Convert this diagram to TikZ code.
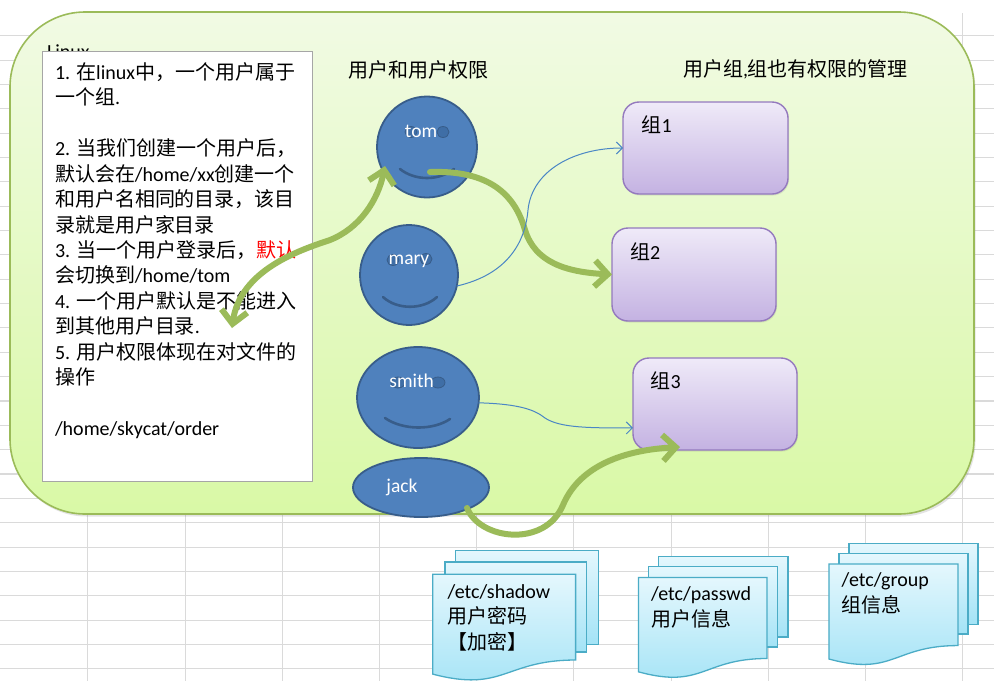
\documentclass[tikz,border=0pt]{standalone}
\usepackage{fontspec}
\setmainfont{Noto Sans CJK SC}
\newfontfamily\latf{Carlito}
\newcommand\lw[1]{{\latf #1}}
\usetikzlibrary{shapes.geometric,arrows.meta,calc,shadows}
\definecolor{gridc}{HTML}{DADADA}
\definecolor{grnb}{HTML}{9BBB59}
\definecolor{grtop}{HTML}{F1FAE4}
\definecolor{grbot}{HTML}{D9F9A6}
\definecolor{ublue}{HTML}{4F81BD}
\definecolor{ubord}{HTML}{385D8A}
\definecolor{eyec}{HTML}{3F6EA6}
\definecolor{ptop}{HTML}{EFEAF8}
\definecolor{pbot}{HTML}{C4B2E2}
\definecolor{pbord}{HTML}{9479BE}
\definecolor{dtop}{HTML}{E4F7FD}
\definecolor{dbot}{HTML}{A3E3F6}
\definecolor{dbord}{HTML}{4BACC6}
\definecolor{thinb}{HTML}{4A86C5}
\definecolor{arrg}{HTML}{9BBB59}
\newcommand\docfront[4]{% x, y, w, h
  \path[docst] (#1,#2) -- (#1+#3,#2) -- (#1+#3,#2+0.802*#4)
    .. controls (#1+0.5*#3,#2+0.802*#4) and (#1+0.5*#3,#2+1.108*#4) .. (#1,#2+0.934*#4) -- cycle;}
\tikzset{
  every node/.style={inner sep=0pt, outer sep=0pt},
  gridline/.style={draw=gridc, line width=1.1pt},
  container/.style={rectangle, rounded corners=75pt, draw=grnb, line width=1.6pt,
    top color=grtop, bottom color=grbot,
    drop shadow={shadow xshift=1.5pt, shadow yshift=-2.5pt, opacity=.22}},
  tbox/.style={rectangle, draw=black!35, line width=0.8pt, fill=white},
  txt/.style={anchor=base west, font=\fontsize{20}{24}\selectfont},
  ltxt/.style={anchor=base west, font=\latf\fontsize{20}{24}\selectfont},
  user/.style={ellipse, draw=ubord, line width=1.8pt, fill=ublue},
  eye/.style={fill=eyec, draw=ubord, line width=0.8pt},
  smile/.style={draw=ubord, line width=2.6pt, line cap=round},
  ulbl/.style={anchor=base, text=white, font=\latf\fontsize{19.5}{20}\selectfont},
  grp/.style={rectangle, rounded corners=16pt, draw=pbord, line width=1.4pt,
    top color=ptop, bottom color=pbot,
    drop shadow={shadow xshift=1pt, shadow yshift=-1.5pt, opacity=.18}},
  docst/.style={draw=dbord, line width=1.3pt, top color=dtop, bottom color=dbot},
  thinarr/.style={draw=thinb, line width=1pt, -{Straight Barb[length=6pt,width=12pt]}},
  garrow/.style={draw=arrg, line width=6pt, line cap=round,
    -{Straight Barb[length=13pt,width=26pt]}},
}
\begin{document}
\begin{tikzpicture}[x=1pt,y=-1pt]
\useasboundingbox[fill=white] (0,0) rectangle (994,681);
% spreadsheet grid
\foreach \k in {0,...,26} \draw[gridline] (0,35.7+24.35*\k) -- (994,35.7+24.35*\k);
\foreach \k in {0,...,9} \draw[gridline] (87.9+97.2*\k,13) -- (87.9+97.2*\k,681);
% container
\node[container, minimum width=964pt, minimum height=502pt] (linux) at (492,263) {};
\node[ltxt] (lx) at (47,58) {Linux};
% text box
\node[tbox, minimum width=270pt, minimum height=430pt] (tb) at (177,266) {};
\node[txt] (t1) at (55,79.3) {\lw{1. }在\lw{linux}中，一个用户属于};
\node[txt] (t2) at (55,104.75) {一个组\lw{.}};
\node[txt] (t4) at (55,155.65) {\lw{2. }当我们创建一个用户后，};
\node[txt] (t5) at (55,181.1) {默认会在\lw{/home/xx}创建一个};
\node[txt] (t6) at (55,206.55) {和用户名相同的目录，该目};
\node[txt] (t7) at (55,232) {录就是用户家目录};
\node[txt] (t8) at (55,257.45) {\lw{3. }当一个用户登录后，\textcolor{red}{默认}};
\node[txt] (t9) at (55,282.9) {会切换到\lw{/home/tom}};
\node[txt] (t10) at (55,308.35) {\lw{4. }一个用户默认是不能进入};
\node[txt] (t11) at (55,333.8) {到其他用户目录\lw{.}};
\node[txt] (t12) at (55,359.25) {\lw{5. }用户权限体现在对文件的};
\node[txt] (t13) at (55,384.7) {操作};
\node[ltxt] (t15) at (55,435.6) {/home/skycat/order};
% headers
\node[txt] (h1) at (348,77.6) {用户和用户权限};
\node[txt] (h2) at (683,76) {用户组\lw{,}组也有权限的管理};
% groups
\node[grp, minimum width=165pt, minimum height=92pt] (g1) at (705.5,148) {};
\node[grp, minimum width=164pt, minimum height=93pt] (g2) at (694,274.5) {};
\node[grp, minimum width=164pt, minimum height=92pt] (g3) at (715,404) {};
\node[txt] (g1t) at (641.7,132.6) {组\lw{1}};
\node[txt] (g2t) at (630,259.3) {组\lw{2}};
\node[txt] (g3t) at (650.7,388.3) {组\lw{3}};
% users
\node[user, minimum width=100pt, minimum height=101pt] (tom) at (427,147) {};
\node[user, minimum width=98pt, minimum height=100pt] (mary) at (409,275) {};
\node[user, minimum width=122pt, minimum height=101pt] (smith) at (418,397.5) {};
\node[user, minimum width=136pt, minimum height=59pt] (jack) at (421,487.5) {};
% eyes
\draw[eye] ($(tom)+(-16,-15)$) ellipse [x radius=6pt, y radius=5.5pt];
\draw[eye] ($(tom)+(16,-15)$) ellipse [x radius=6pt, y radius=5.5pt];
\draw[eye] ($(mary)+(-16,-15)$) ellipse [x radius=6pt, y radius=5.5pt];
\draw[eye] ($(mary)+(17,-16)$) ellipse [x radius=6pt, y radius=5.5pt];
\draw[eye] ($(smith)+(-20,-15)$) ellipse [x radius=7pt, y radius=5.5pt];
\draw[eye] ($(smith)+(20,-15)$) ellipse [x radius=7pt, y radius=5.5pt];
% smiles
\draw[smile] ($(tom)+(-27,22)$) .. controls ($(tom)+(-12,34)$) and ($(tom)+(12,34)$) .. ($(tom)+(27,22)$);
\draw[smile] ($(mary)+(-26,22)$) .. controls ($(mary)+(-12,35)$) and ($(mary)+(14,35)$) .. ($(mary)+(28,22)$);
\draw[smile] ($(smith)+(-33,20.5)$) .. controls ($(smith)+(-15,33)$) and ($(smith)+(15,33)$) .. ($(smith)+(32,21.5)$);
% user labels
\node[ulbl] (tomt) at (421,137.5) {tom};
\node[ulbl] (maryt) at (409,264.7) {mary};
\node[ulbl] (smitht) at (411.7,387.7) {smith};
\node[ulbl] (jackt) at (402,492) {jack};
% documents
\path[docst] (455.5,550.4) rectangle (598.3,644.4);
\path[docst] (444.9,562) rectangle (586.5,652);
\docfront{432.8}{574.2}{142.8}{107}
\path[docst] (658.6,556.6) rectangle (787.9,637);
\path[docst] (648.8,566.5) rectangle (777.6,647);
\docfront{638.5}{577.5}{128.5}{101}
\path[docst] (849,543.8) rectangle (978,624.3);
\path[docst] (839,553.7) rectangle (968,634);
\docfront{828.9}{564}{129}{101.7}
\node[ltxt] (d1a) at (447.5,598) {/etc/shadow};
\node[txt] (d1b) at (447.5,623.5) {用户密码};
\node[txt] (d1c) at (447.5,649) {【加密】};
\node[ltxt] (d2a) at (651,600.5) {/etc/passwd};
\node[txt] (d2b) at (651,626.5) {用户信息};
\node[ltxt] (d3a) at (841.7,586.5) {/etc/group};
\node[txt] (d3b) at (841.7,612.5) {组信息};
% green arrows
\coordinate (tsm) at (430,172);
\coordinate (tomin) at (385,166);
\coordinate (bx) at (232,328);
\coordinate (jst) at (467,508);
\coordinate (g3b) at (680,447);
\draw[garrow] (tsm) .. controls (490,170) and (515,195) .. (525,230)
  .. controls (535,262) and (565,272) .. (g2.west);
\draw[garrow, {Straight Barb[length=13pt,width=26pt]}-{Straight Barb[length=13pt,width=26pt]}]
  (bx) .. controls (240,270) and (300,250) .. (330,240)
  .. controls (360,228) and (378,200) .. (tomin);
\draw[garrow] (jst) .. controls (480,540) and (545,548) .. (563,505)
  .. controls (580,465) and (625,450) .. (g3b);
% thin arrows
\coordinate (g3a) at ($(g3.north west)!0.76!(g3.south west)$);
\draw[thinarr] (mary.-13) .. controls (505,275) and (525,245) .. (528,210)
  .. controls (532,170) and (575,148) .. (g1.west);
\draw[thinarr] (smith.-5) .. controls (520,404) and (535,410) .. (545,418)
  .. controls (560,428) and (590,428) .. (g3a);
\end{tikzpicture}
\end{document}
